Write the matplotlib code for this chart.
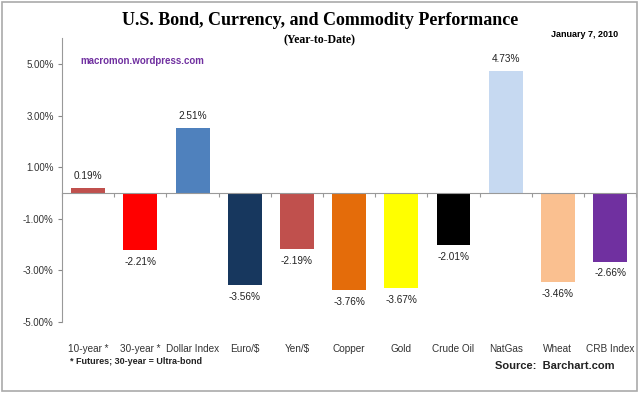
import matplotlib.pyplot as plt
from matplotlib.patches import Rectangle

categories = ["10-year *", "30-year *", "Dollar Index", "Euro/$", "Yen/$",
              "Copper", "Gold", "Crude Oil", "NatGas", "Wheat", "CRB Index"]
returns = [0.19, -2.21, 2.51, -3.56, -2.19, -3.76, -3.67, -2.01, 4.73, -3.46, -2.66]
colors = ["#C0504D", "#FF0000", "#4F81BD", "#17375E", "#C0504D", "#E46C0A",
          "#FFFF00", "#000000", "#C6D9F1", "#FAC090", "#7030A0"]
yticks = [-5, -3, -1, 1, 3, 5]

plt.rcParams['font.family'] = ['Liberation Sans', 'DejaVu Sans']

fig = plt.figure(figsize=(6.4, 3.93), dpi=100)
ax = fig.add_axes([0.097, 0.181, 0.897, 0.722])

x = list(range(len(categories)))
bars = ax.bar(x, returns, width=0.65, color=colors, zorder=2)

ax.set_xlim(-0.5, len(categories) - 0.5)
ax.set_ylim(-5, 6)
ax.set_yticks(yticks)
ax.set_yticklabels([f"{v:.2f}%" for v in yticks], fontsize=7, color="#333333")
ax.tick_params(axis="y", length=3, color="#888888", pad=3)

# zero line with boundary ticks
ax.spines["bottom"].set_position(("data", 0))
ax.spines["bottom"].set_color("#999999")
ax.spines["left"].set_color("#999999")
ax.spines["top"].set_visible(False)
ax.spines["right"].set_visible(False)
ax.set_xticks([i + 0.5 for i in range(-1, len(categories))])
ax.set_xticklabels([])
ax.tick_params(axis="x", length=3, color="#999999", direction="out")

# category names at the bottom
for i, name in enumerate(categories):
    ax.text(i, -0.095, name, transform=ax.get_xaxis_transform(),
            ha="center", va="center", fontsize=7.2, color="#333333")

# value labels
for bar, v in zip(bars, returns):
    xc = bar.get_x() + bar.get_width() / 2
    if v >= 0:
        ax.annotate(f"{v:.2f}%", (xc, v), xytext=(0, 5), textcoords="offset points",
                    ha="center", va="bottom", fontsize=7.2, color="#222222")
    else:
        ax.annotate(f"{v:.2f}%", (xc, v), xytext=(0, -5), textcoords="offset points",
                    ha="center", va="top", fontsize=7.2, color="#222222")

fig.text(0.5, 0.948, "U.S. Bond, Currency, and Commodity Performance",
         ha="center", va="center", fontsize=13, fontweight="bold", family="Liberation Serif")
fig.text(0.5, 0.898, "(Year-to-Date)", ha="center", va="center",
         fontsize=8.5, fontweight="bold", family="Liberation Serif")
fig.text(0.913, 0.913, "January 7, 2010", ha="center", va="center",
         fontsize=6.5, fontweight="bold")
fig.text(0.125, 0.845, "macromon.wordpress.com", ha="left", va="center",
         fontsize=7, fontweight="bold", color="#7030A0")
fig.text(0.11, 0.079, "* Futures; 30-year = Ultra-bond", ha="left", va="center",
         fontsize=6.5, fontweight="bold", color="#222222")
fig.text(0.96, 0.068, "Source:  Barchart.com", ha="right", va="center",
         fontsize=8, fontweight="bold", color="#222222")

fig.patches.append(Rectangle((0.003, 0.005), 0.992, 0.99, transform=fig.transFigure,
                             fill=False, edgecolor="#AAAAAA", linewidth=1.2))

fig.savefig("out.png", dpi=100)
